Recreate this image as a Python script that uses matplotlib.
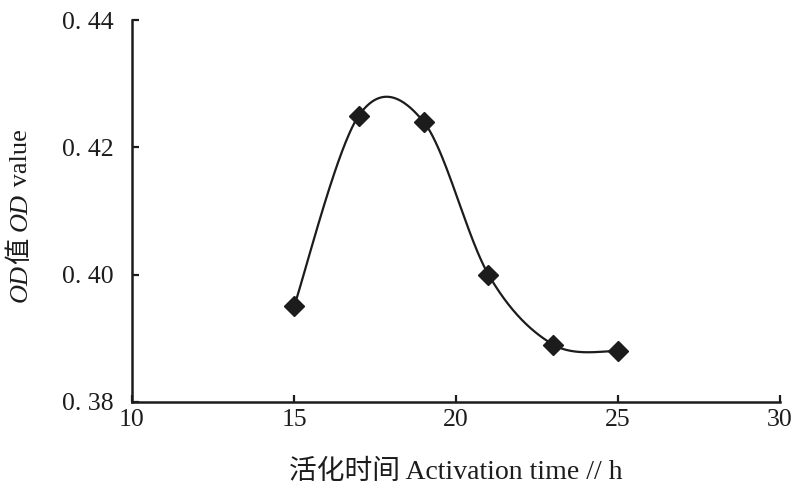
import numpy as np
import matplotlib
matplotlib.use("Agg")
import matplotlib.pyplot as plt

plt.rcParams['font.family'] = ['Liberation Serif', 'Noto Sans CJK SC']

# Activation time (h) and measured OD
time_h = [15, 17, 19, 21, 23, 25]
od_value = [0.395, 0.425, 0.424, 0.400, 0.389, 0.388]

x_ticks = [10, 15, 20, 25, 30]
y_ticks = [0.38, 0.40, 0.42, 0.44]
y_tick_labels = ["0. 38", "0. 40", "0. 42", "0. 44"]

INK = "#1c1c1c"


def smooth_curve(xs, ys, n=60):
    """Catmull-Rom style Bezier smoothing through every data point."""
    p = np.column_stack([xs, ys]).astype(float)
    pts = np.vstack([p[0], p, p[-1]])
    out = []
    t = np.linspace(0, 1, n)[:, None]
    for i in range(1, len(pts) - 2):
        p0, p1, p2, p3 = pts[i - 1], pts[i], pts[i + 1], pts[i + 2]
        c1 = p1 + (p2 - p0) / 6.0
        c2 = p2 - (p3 - p1) / 6.0
        seg = ((1 - t) ** 3) * p1 + 3 * ((1 - t) ** 2) * t * c1 \
            + 3 * (1 - t) * t ** 2 * c2 + t ** 3 * p2
        out.append(seg)
    curve = np.vstack(out)
    return curve[:, 0], curve[:, 1]


fig = plt.figure(figsize=(7.92, 4.93), dpi=100)
ax = fig.add_axes([0.1667, 0.1846, 0.8183, 0.7748])

cx, cy = smooth_curve(time_h, od_value)
ax.plot(cx, cy, color=INK, lw=1.6, zorder=2)
ax.plot(time_h, od_value, linestyle="none", marker="D", ms=10,
        color=INK, zorder=3)

ax.set_xlim(10, 30)
ax.set_ylim(0.38, 0.44)
ax.set_xticks(x_ticks)
ax.set_yticks(y_ticks)
ax.set_yticklabels(y_tick_labels)

for side in ("top", "right"):
    ax.spines[side].set_visible(False)
for side in ("left", "bottom"):
    ax.spines[side].set_linewidth(1.8)
    ax.spines[side].set_color(INK)

ax.tick_params(direction="in", length=5, width=1.6, color=INK,
               labelsize=18.5, labelcolor=INK)
ax.tick_params(axis="x", pad=5)
ax.tick_params(axis="y", pad=13)

ax.set_xlabel("活化时间 Activation time // h", fontsize=20, color=INK,
              labelpad=21)

# y-axis label built from pieces so that "OD" can be italic
pieces = [("OD", "italic"), ("值 ", "normal"), ("OD", "italic"),
          (" value", "normal")]
prev = ax.text(-0.172, 0.262, pieces[0][0], transform=ax.transAxes,
               rotation=90, ha="center", va="bottom", fontsize=19,
               style=pieces[0][1], color=INK)
for txt, st in pieces[1:]:
    prev = ax.annotate(txt, xy=(0.5, 1.0), xycoords=prev, rotation=90,
                       ha="center", va="bottom", fontsize=19, style=st,
                       color=INK)

fig.savefig("out.png", dpi=100)
